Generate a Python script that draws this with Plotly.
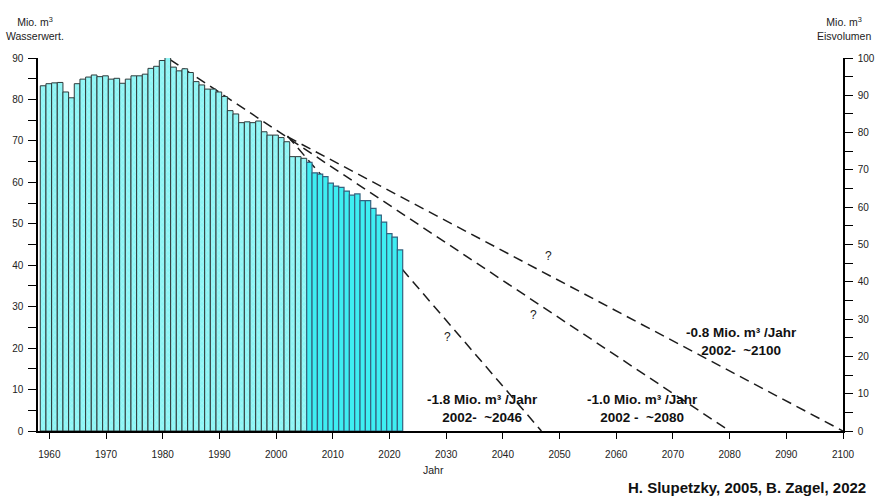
import plotly.graph_objects as go

# ---------------- data ----------------
years_hist = list(range(1958, 2005))
water_hist = [83.3, 83.8, 84.0, 84.1, 81.8, 80.4, 83.8, 84.9, 85.4, 85.9,
              85.5, 85.7, 84.9, 85.1, 83.9, 84.9, 85.7, 85.7, 86.1, 87.5,
              88.0, 89.4, 90.2, 87.8, 86.9, 87.4, 86.5, 84.3, 83.5, 82.5,
              82.5, 81.8, 80.7, 77.3, 76.5, 74.4, 74.6, 74.4, 74.8, 72.2,
              71.4, 71.4, 70.8, 69.8, 66.2, 66.2, 65.8]
years_new = list(range(2005, 2023))
water_new = [64.8, 62.3, 62.0, 61.4, 59.8, 59.1, 58.8, 57.9, 56.9, 57.2,
             55.6, 55.6, 53.7, 52.1, 50.4, 47.6, 46.8, 43.7]

trend_start_year = [2002, 1981.3, 2002]
trend_start_value = [71.0, 89.6, 71.2]
trend_end_year = [2100, 2080, 2046.8]
trend_end_value = [0, 0, 0]

x_ticks = list(range(1960, 2101, 10))
left_ticks = list(range(0, 91, 10))
right_ticks = list(range(0, 101, 10))

trend_labels = ["-0.8 Mio. m³ /Jahr<br>2002-&nbsp; ~2100",
                "-1.0 Mio. m³ /Jahr<br>2002 -&nbsp; ~2080",
                "-1.8 Mio. m³ /Jahr<br>2002-&nbsp; ~2046"]

# ---------------- layout parameters ----------------
X_MIN, X_MAX = 1958, 2100
HIST_SHIFT = 0.90            # old series drawn offset on the year scale
NEW_START, NEW_END = 2005.40, 2022.33   # span covered by the newer bars
FONT = "Liberation Sans, Arial, sans-serif"
W, H = 879, 496
PLOT_L, PLOT_R, PLOT_T, PLOT_B = 38, 843, 58, 431   # plot box in page pixels

s = (NEW_END - NEW_START) / len(years_new)
x3_lo = years_new[0] - 0.5 + (X_MIN - NEW_START) / s
x3_hi = years_new[0] - 0.5 + (X_MAX - NEW_START) / s

fig = go.Figure()

# trend lines (main axes, drawn beneath the bars)
for sy, sv, ey, ev in zip(trend_start_year, trend_start_value, trend_end_year, trend_end_value):
    fig.add_trace(go.Scatter(x=[sy, ey], y=[sv, ev], mode="lines",
                             line=dict(color="#1c1c1c", width=1.5, dash="10px,6px"),
                             hoverinfo="skip", showlegend=False, xaxis="x", yaxis="y"))

# empty trace so that the right-hand (ice volume) axis is drawn
fig.add_trace(go.Scatter(x=[None], y=[None], mode="lines", xaxis="x", yaxis="y2",
                         hoverinfo="skip", showlegend=False))

fig.add_trace(go.Bar(x=years_hist, y=water_hist, width=1, xaxis="x2", yaxis="y",
                     marker=dict(color="#8ef5f5",
                                 line=dict(color="#2e3a3a", width=1),
                                 pattern=dict(shape="x", size=4, solidity=0.3,
                                              fgcolor="#b6fcfc")),
                     cliponaxis=False, hoverinfo="skip", showlegend=False))
fig.add_trace(go.Bar(x=years_new, y=water_new, width=1, xaxis="x3", yaxis="y",
                     marker=dict(color="#3eeef2",
                                 line=dict(color="#35637f", width=1.2)),
                     cliponaxis=False, hoverinfo="skip", showlegend=False))

axis_common = dict(showgrid=False, zeroline=False, showline=True, linecolor="black",
                   linewidth=1.5, ticks="outside", tickcolor="black", tickwidth=1.2,
                   tickfont=dict(family=FONT, size=10, color="#222"))
minor_y = dict(dtick=5, ticks="outside", ticklen=8, tickwidth=1.2, tickcolor="black",
               showgrid=False)

fig.update_layout(
    width=W, height=H,
    margin=dict(l=PLOT_L, r=W - PLOT_R, t=PLOT_T, b=H - PLOT_B, autoexpand=False),
    paper_bgcolor="white", plot_bgcolor="white",
    showlegend=False, barmode="overlay",
    xaxis=dict(range=[X_MIN, X_MAX], tickvals=x_ticks, ticklen=6,
               ticklabelstandoff=7, **axis_common),
    xaxis2=dict(range=[X_MIN - HIST_SHIFT, X_MAX - HIST_SHIFT], overlaying="x",
                visible=False),
    xaxis3=dict(range=[x3_lo, x3_hi], overlaying="x", visible=False),
    yaxis=dict(range=[0, 90], tickvals=left_ticks, ticklen=8, ticklabelstandoff=3,
               minor=minor_y, **axis_common),
    yaxis2=dict(range=[0, 100], tickvals=right_ticks, overlaying="y", side="right",
                anchor="x", ticklen=8, ticklabelstandoff=3, minor=minor_y,
                **axis_common),
)

def px_to_paper(px, py):
    return (px - PLOT_L) / (PLOT_R - PLOT_L), (PLOT_B - py) / (PLOT_B - PLOT_T)

ann = []
ax, ay = px_to_paper(35, 28.5)
ann.append(dict(text="Mio. m<sup>3</sup><br>Wasserwert.", x=ax, y=ay))
ax, ay = px_to_paper(844, 28.5)
ann.append(dict(text="Mio. m<sup>3</sup><br>Eisvolumen", x=ax, y=ay))
ax, ay = px_to_paper(433, 470)
ann.append(dict(text="Jahr", x=ax, y=ay))
for a in ann:
    a.update(xref="paper", yref="paper", showarrow=False, xanchor="center", yanchor="middle",
             font=dict(family=FONT, size=10.5, color="#222"))

ax, ay = px_to_paper(868, 487)
ann.append(dict(text="<b>H. Slupetzky, 2005, B. Zagel, 2022</b>", x=ax, y=ay,
                xref="paper", yref="paper", showarrow=False, xanchor="right", yanchor="middle",
                font=dict(family=FONT, size=15, color="#111")))

label_pos = [(741, 341), (642, 408), (482, 408)]
for txt, (lx, ly) in zip(trend_labels, label_pos):
    ax, ay = px_to_paper(lx, ly)
    ann.append(dict(text="<b>" + txt + "</b>", x=ax, y=ay, xref="paper", yref="paper",
                    showarrow=False, xanchor="center", yanchor="middle", align="center",
                    font=dict(family=FONT, size=13.5, color="#111")))

for qx, qy in [(548, 256), (533, 315), (448, 337)]:
    ax, ay = px_to_paper(qx, qy)
    ann.append(dict(text="?", x=ax, y=ay, xref="paper", yref="paper", showarrow=False,
                    xanchor="center", yanchor="middle",
                    font=dict(family=FONT, size=12, color="#222")))

fig.update_layout(annotations=ann)

fig.write_html("out.html", config={"displayModeBar": False},
               post_script="document.body.style.margin='0px';")
